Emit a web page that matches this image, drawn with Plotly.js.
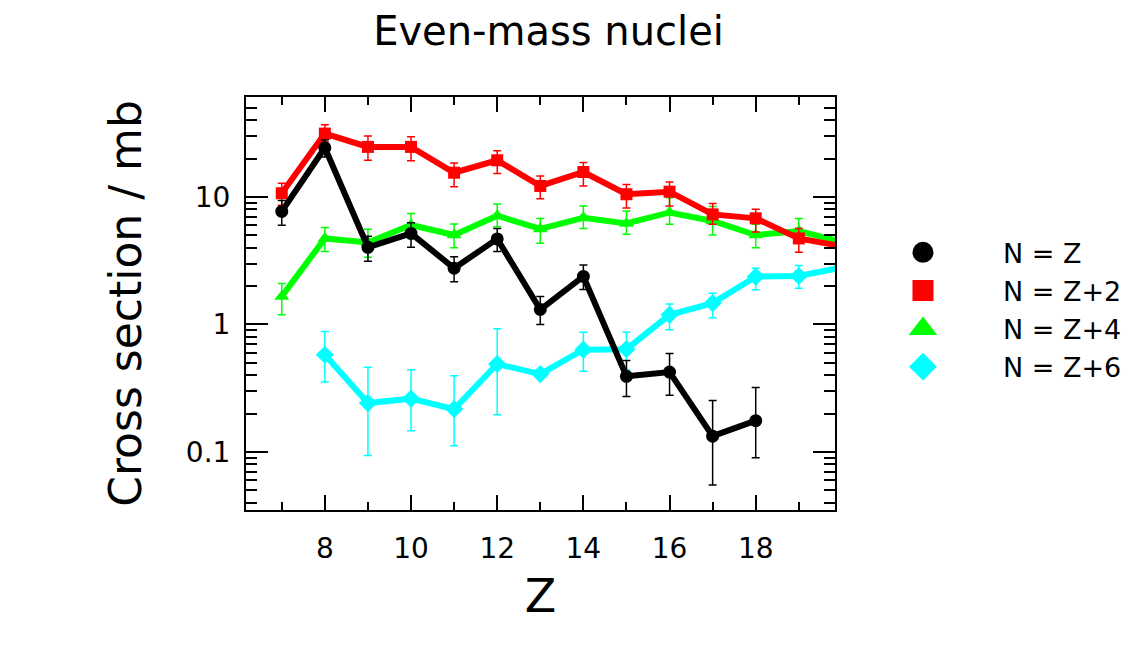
<!DOCTYPE html>
<html>
<head>
<meta charset="utf-8">
<script src="https://cdn.plot.ly/plotly-3.0.1.min.js"></script>
<style>
html, body { margin: 0; padding: 0; background: #ffffff; }
#chart { width: 1130px; height: 655px; }
</style>
</head>
<body>
<div id="chart"></div>
<script>
// ---- data ----
var zNZ = [7, 8, 9, 10, 11, 12, 13, 14, 15, 16, 17, 18];
var sigNZ = [7.7, 24.3, 4.03, 5.18, 2.76, 4.69, 1.31, 2.38, 0.392, 0.423, 0.133, 0.176];
var errNZplus = [1.7, 3.7, 0.9, 1.1, 0.63, 0.97, 0.35, 0.55, 0.13, 0.17, 0.12, 0.145];
var errNZminus = [1.7, 3.7, 0.9, 1.15, 0.6, 0.96, 0.31, 0.5, 0.12, 0.145, 0.078, 0.086];

var zNZ2 = [7, 8, 9, 10, 11, 12, 13, 14, 15, 16, 17, 18, 19, 20];
var sigNZ2 = [10.7, 31.4, 24.7, 24.7, 15.5, 19.4, 12.2, 15.7, 10.5, 11.0, 7.3, 6.8, 4.73, 4.1];
var errNZ2plus = [2.1, 5.5, 5.4, 4.9, 3.0, 3.6, 2.4, 2.9, 2.0, 2.1, 1.6, 1.2, 0.94, 0.8];
var errNZ2minus = [2.1, 4.4, 5.3, 5.5, 3.5, 4.1, 2.5, 3.5, 2.3, 2.5, 1.2, 1.5, 1.05, 0.8];

var zNZ4 = [7, 8, 9, 10, 11, 12, 13, 14, 15, 16, 17, 18, 19, 20];
var sigNZ4 = [1.66, 4.73, 4.4, 6.03, 5.03, 7.13, 5.61, 6.87, 6.2, 7.56, 6.48, 5.03, 5.41, 4.45];
var errNZ4plus = [0.44, 1.04, 1.17, 1.4, 1.11, 1.67, 1.18, 1.63, 1.56, 2.3, 1.92, 1.07, 1.38, 1.0];
var errNZ4minus = [0.47, 1.0, 1.04, 1.3, 1.03, 1.29, 1.28, 1.2, 1.11, 1.46, 1.45, 1.03, 0.81, 1.0];

var zNZ6 = [8, 9, 10, 11, 12, 13, 14, 15, 16, 17, 18, 19, 20];
var sigNZ6 = [0.579, 0.242, 0.262, 0.217, 0.49, 0.408, 0.634, 0.64, 1.19, 1.47, 2.37, 2.4, 2.8];
var errNZ6plus = [0.30, 0.22, 0.18, 0.18, 0.435, 0.03, 0.236, 0.23, 0.26, 0.29, 0.39, 0.5, 0.4];
var errNZ6minus = [0.225, 0.148, 0.115, 0.105, 0.294, 0.03, 0.205, 0.2, 0.28, 0.34, 0.5, 0.48, 0.4];

var seriesNames = ['N = Z', 'N = Z+2', 'N = Z+4', 'N = Z+6'];
var yTickVals = [0.1, 1, 10];
var yTickText = ['0.1', '1', '10'];
var yMinorVals = [0.04, 0.05, 0.06, 0.07, 0.08, 0.09, 0.2, 0.3, 0.4, 0.5, 0.6, 0.7, 0.8, 0.9,
                  2, 3, 4, 5, 6, 7, 8, 9, 20, 30, 40, 50, 60];

var FONT = 'DejaVu Sans, sans-serif';

function series(x, y, ep, em, color, symbol, size, name) {
  return {
    type: 'scatter', mode: 'lines+markers', x: x, y: y, name: name, showlegend: false,
    line: { color: color, width: 6 },
    marker: { color: color, symbol: symbol, size: size },
    error_y: { type: 'data', symmetric: false, array: ep, arrayminus: em,
               color: color, thickness: 1.5, width: 4 },
    cliponaxis: true
  };
}
function legendItem(color, symbol, name) {
  return {
    type: 'scatter', mode: 'markers', x: [null], y: [null], name: name, showlegend: true,
    marker: { color: color, symbol: symbol, size: 16, line: { color: color, width: 5 } }
  };
}

var data = [
  series(zNZ6, sigNZ6, errNZ6plus, errNZ6minus, '#00ffff', 'diamond', 14, seriesNames[3]),
  series(zNZ4, sigNZ4, errNZ4plus, errNZ4minus, '#00ff00', 'triangle-up', 13, seriesNames[2]),
  series(zNZ2, sigNZ2, errNZ2plus, errNZ2minus, '#ff0000', 'square', 12, seriesNames[1]),
  series(zNZ, sigNZ, errNZplus, errNZminus, '#000000', 'circle', 13, seriesNames[0]),
  legendItem('#000000', 'circle', seriesNames[0]),
  legendItem('#ff0000', 'square', seriesNames[1]),
  legendItem('#00ff00', 'triangle-up', seriesNames[2]),
  legendItem('#00ffff', 'diamond', seriesNames[3])
];

var layout = {
  width: 1130, height: 655,
  paper_bgcolor: '#ffffff', plot_bgcolor: '#ffffff',
  margin: { l: 246, r: 295, t: 97, b: 145 },
  font: { family: FONT, color: '#000000' },
  title: { text: 'Even-mass nuclei', font: { family: FONT, size: 40, color: '#000' },
           xref: 'container', x: 0.4854, xanchor: 'center',
           yref: 'container', y: 0.953, yanchor: 'middle' },
  xaxis: {
    range: [6.17, 19.84], showgrid: false, zeroline: false,
    showline: true, linewidth: 2, linecolor: '#000', mirror: 'ticks',
    ticks: 'inside', ticklen: 15, tickwidth: 2, tickcolor: '#000',
    tickmode: 'linear', tick0: 0, dtick: 2,
    minor: { tickmode: 'linear', tick0: 1, dtick: 2, ticks: 'inside', ticklen: 8, tickwidth: 2, tickcolor: '#000', showgrid: false },
    tickfont: { family: FONT, size: 28 },
    ticklabelstandoff: 12,
    title: { text: 'Z', font: { family: FONT, size: 46 }, standoff: 16 }
  },
  yaxis: {
    type: 'log', range: [-1.455, 1.784], showgrid: false, zeroline: false,
    showline: true, linewidth: 2, linecolor: '#000', mirror: 'ticks',
    ticks: 'inside', ticklen: 22, tickwidth: 2, tickcolor: '#000',
    tickmode: 'array', tickvals: yTickVals, ticktext: yTickText,
    minor: { tickmode: 'array', tickvals: yMinorVals, ticks: 'inside', ticklen: 11, tickwidth: 2, tickcolor: '#000', showgrid: false },
    tickfont: { family: FONT, size: 28 },
    ticklabelstandoff: 8,
    title: { text: 'Cross section / mb', font: { family: FONT, size: 44 }, standoff: 30 }
  },
  showlegend: true,
  legend: {
    xref: 'container', yref: 'container', x: 0.746, y: 0.527, xanchor: 'left', yanchor: 'middle',
    font: { family: FONT, size: 27, color: '#000' },
    itemwidth: 150, bgcolor: 'rgba(0,0,0,0)', borderwidth: 0, tracegroupgap: 0
  }
};

Plotly.newPlot('chart', data, layout, { displayModeBar: false, staticPlot: true });
</script>
</body>
</html>
